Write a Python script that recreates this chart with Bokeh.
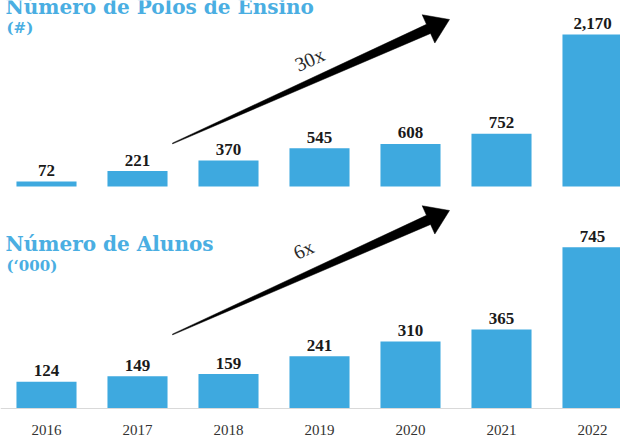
import math
from bokeh.plotting import figure
from bokeh.models import Range1d, Span
from bokeh.core.properties import value
from bokeh.embed import file_html
from bokeh.resources import INLINE

# ---------------- data ----------------
years = [2016, 2017, 2018, 2019, 2020, 2021, 2022]
year_labels = ["2016", "2017", "2018", "2019", "2020", "2021", "2022"]
polos = [72, 221, 370, 545, 608, 752, 2170]
polos_labels = ["72", "221", "370", "545", "608", "752", "2,170"]
alunos = [124, 149, 159, 241, 310, 365, 745]
alunos_labels = ["124", "149", "159", "241", "310", "365", "745"]
top_title = "Número de Polos de Ensino"
top_unit = "(#)"
bottom_title = "Número de Alunos"
bottom_unit = "(‘000)"
top_growth = "30x"
bottom_growth = "6x"

# ---------------- layout (pixels in the canvas) ----------------
W, H = 620, 436
PX_PER_YEAR = 91.0
FIRST_BAR_PX = 46.0
TOP_BASE_PX = 186.0
TOP_PX_PER_UNIT = 152.0 / 2170.0
BOT_BASE_PX = 408.0
BOT_PX_PER_UNIT = 161.3 / 745.0

BAR_COLOR = "#3ea9df"
TITLE_COLOR = "#4aaee2"
SERIF = "Liberation Serif"

x_start = years[0] - FIRST_BAR_PX / PX_PER_YEAR
x_end = x_start + W / PX_PER_YEAR


def xd(px):
    return x_start + px / PX_PER_YEAR


def yt(py):
    return (TOP_BASE_PX - py) / TOP_PX_PER_UNIT


def yb(py):
    return (BOT_BASE_PX - py) / BOT_PX_PER_UNIT


p = figure(width=W, height=H, output_backend="svg", toolbar_location=None,
           x_range=Range1d(x_start, x_end), y_range=Range1d(yb(H), yb(0)),
           x_axis_type=None, y_axis_type=None, min_border=0)
p.extra_y_ranges = {"top": Range1d(yt(H), yt(0))}
p.outline_line_color = None
p.background_fill_color = "white"
p.border_fill_color = "white"
p.xgrid.visible = False
p.ygrid.visible = False

# ---------------- bars ----------------
p.vbar(x=years, top=polos, bottom=0, width=0.66, color=BAR_COLOR,
       line_color=None, y_range_name="top")
p.vbar(x=years, top=alunos, bottom=0, width=0.66, color=BAR_COLOR,
       line_color=None)

# axis line of the lower chart
p.add_layout(Span(location=0, dimension="width", line_color="#d9d9d9",
                  line_width=1))

# ---------------- value labels ----------------
lab_kw = dict(text_align="center", text_baseline="alphabetic",
              text_font=value(SERIF), text_font_style="bold",
              text_font_size="17px", text_color="#1a1a1a", y_offset=-11)
p.text(x=years, y=polos, text=polos_labels, y_range_name="top", **lab_kw)
p.text(x=years, y=alunos, text=alunos_labels, **lab_kw)

# year labels
p.text(x=years, y=[yb(429)] * len(years), text=year_labels,
       text_align="center", text_baseline="alphabetic",
       text_font=value(SERIF), text_font_size="15px", text_color="#333333")

# ---------------- titles ----------------
tkw = dict(text_align="left", text_baseline="alphabetic",
           text_font=value("DejaVu Serif"), text_font_style="bold",
           text_color=TITLE_COLOR)
p.text(x=[xd(5)], y=[yt(6)], text=[top_title], y_range_name="top",
       text_font_size="20px", **tkw)
p.text(x=[xd(6)], y=[yt(27)], text=[top_unit], y_range_name="top",
       text_font_size="15px", **tkw)
p.text(x=[xd(5)], y=[yb(243)], text=[bottom_title],
       text_font_size="20px", **tkw)
p.text(x=[xd(6)], y=[yb(265)], text=[bottom_unit],
       text_font_size="15px", **tkw)


# ---------------- growth arrows ----------------
def arrow_px(sx, sy, tx, ty, head_len=23.0, head_half=15.5,
             shaft_end=5.0, shaft_start=0.4):
    dx, dy = tx - sx, ty - sy
    L = math.hypot(dx, dy)
    ux, uy = dx / L, dy / L
    nx, ny = -uy, ux
    bx, by = tx - head_len * ux, ty - head_len * uy
    pts = [
        (sx + shaft_start * nx, sy + shaft_start * ny),
        (bx + shaft_end * nx, by + shaft_end * ny),
        (bx + head_half * nx, by + head_half * ny),
        (tx, ty),
        (bx - head_half * nx, by - head_half * ny),
        (bx - shaft_end * nx, by - shaft_end * ny),
        (sx - shaft_start * nx, sy - shaft_start * ny),
    ]
    return pts


top_pts = arrow_px(172, 143, 449, 19)
p.patch(x=[xd(a) for a, b in top_pts], y=[yt(b) for a, b in top_pts],
        color="black", line_color="black", line_width=0.5, y_range_name="top")
bot_pts = arrow_px(172, 334, 449, 210)
p.patch(x=[xd(a) for a, b in bot_pts], y=[yb(b) for a, b in bot_pts],
        color="black", line_color="black", line_width=0.5)

ang = math.atan2(124, 277)
gkw = dict(text_align="center", text_baseline="middle",
           text_font=value(SERIF), text_font_size="20px",
           text_color="#2a2a2a", angle=ang)
p.text(x=[xd(309)], y=[yt(59)], text=[top_growth], y_range_name="top", **gkw)
p.text(x=[xd(303)], y=[yb(249)], text=[bottom_growth], **gkw)

open("out.html", "w").write(file_html(p, INLINE))
